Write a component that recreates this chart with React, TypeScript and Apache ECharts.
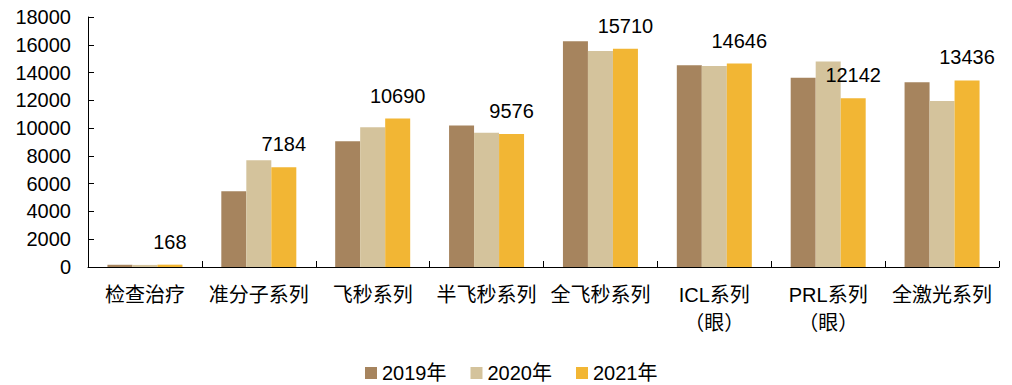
import React, { useEffect, useRef } from "react";
import * as echarts from "echarts";

const categories = [
  "检查治疗",
  "准分子系列",
  "飞秒系列",
  "半飞秒系列",
  "全飞秒系列",
  "ICL系列\n（眼）",
  "PRL系列\n（眼）",
  "全激光系列",
];
const seriesNames = ["2019年", "2020年", "2021年"];
const values2019 = [160, 5450, 9050, 10180, 16250, 14520, 13620, 13300];
const values2020 = [150, 7680, 10060, 9660, 15550, 14470, 14800, 11950];
const values2021 = [168, 7184, 10690, 9576, 15710, 14646, 12142, 13436];
const colors = ["#A6845E", "#D4C39C", "#F2B634"];

const FONT = 'Arial, "Liberation Sans", "Noto Sans CJK SC", sans-serif';

export default function App() {
  const ref = useRef<HTMLDivElement>(null);
  useEffect(() => {
    if (!ref.current) return;
    const chart = echarts.init(ref.current, null, { renderer: "svg" });
    const data = [values2019, values2020, values2021];
    chart.setOption({
      animation: false,
      textStyle: { fontFamily: FONT },
      grid: { left: 88, right: 13, top: 17, bottom: 118, containLabel: false },
      legend: {
        left: 360,
        top: 358,
        padding: 5,
        itemWidth: 12,
        itemHeight: 12,
        itemGap: 24,
        icon: "rect",
        textStyle: { fontSize: 20, color: "#000", fontFamily: FONT },
        data: seriesNames,
      },
      xAxis: {
        type: "category",
        data: categories,
        boundaryGap: true,
        axisLine: { lineStyle: { color: "#000", width: 1 } },
        axisTick: { show: true, inside: true, length: 6, lineStyle: { color: "#000" } },
        axisLabel: {
          interval: 0,
          fontSize: 20,
          lineHeight: 28,
          margin: 14,
          color: "#000",
          fontFamily: FONT,
        },
      },
      yAxis: {
        type: "value",
        min: 0,
        max: 18000,
        interval: 2000,
        splitLine: { show: false },
        axisLine: { show: true, lineStyle: { color: "#000", width: 1 } },
        axisTick: { show: true, inside: true, length: 6, lineStyle: { color: "#000" } },
        axisLabel: {
          fontSize: 20,
          color: "#000",
          margin: 17,
          fontFamily: FONT,
          formatter: (v: number) => String(v),
        },
      },
      series: seriesNames.map((name, i) => ({
        name,
        type: "bar",
        data: data[i],
        barWidth: 25,
        barGap: "0%",
        itemStyle: { color: colors[i] },
        label:
          i === 2
            ? {
                show: true,
                position: "top",
                distance: 13,
                fontSize: 20,
                color: "#000",
                fontFamily: FONT,
              }
            : { show: false },
      })),
    });
    return () => chart.dispose();
  }, []);
  return (
    <div
      ref={ref}
      style={{ position: "fixed", left: 0, top: 0, width: 1012, height: 385, background: "#fff" }}
    />
  );
}
